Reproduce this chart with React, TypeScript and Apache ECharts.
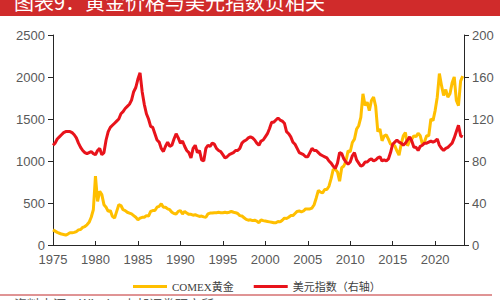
import React, { useEffect, useRef } from "react";
import * as echarts from "echarts";

// Quarterly observations, first point = 1975 Q1, step = a quarter of a year
const START_YEAR = 1975;
const STEP = 0.25;

const xTickLabels = ["1975", "1980", "1985", "1990", "1995", "2000", "2005", "2010", "2015", "2020"];
const leftTicks = [0, 500, 1000, 1500, 2000, 2500];
const rightTicks = [0, 40, 80, 120, 160, 200];

const seriesNames = ["COMEX黄金", "美元指数（右轴）"];

// COMEX gold (USD/oz), left axis
const gold = [
  180, 165, 150, 140, // 1975
  130, 125, 118, 130, // 1976
  145, 145, 150, 160, // 1977
  180, 185, 210, 220, // 1978
  240, 270, 330, 420, // 1979
  820, 520, 640, 600, // 1980
  480, 450, 400, 410, // 1981
  340, 320, 400, 480, // 1982
  470, 420, 410, 390, // 1983
  380, 370, 350, 330, // 1984
  300, 320, 330, 330, // 1985
  350, 345, 400, 410, // 1986
  410, 450, 460, 490, // 1987
  450, 450, 430, 420, // 1988
  390, 375, 370, 400, // 1989
  410, 370, 400, 380, // 1990
  365, 365, 355, 360, // 1991
  350, 340, 345, 335, // 1992
  330, 370, 380, 380, // 1993
  385, 385, 390, 385, // 1994
  385, 390, 385, 390, // 1995
  400, 390, 385, 375, // 1996
  350, 345, 325, 305, // 1997
  295, 300, 290, 295, // 1998
  285, 265, 300, 290, // 1999
  285, 280, 275, 270, // 2000
  265, 265, 280, 275, // 2001
  295, 320, 315, 330, // 2002
  350, 350, 375, 400, // 2003
  405, 395, 405, 430, // 2004
  430, 430, 440, 480, // 2005
  560, 650, 630, 620, // 2006
  660, 660, 700, 790, // 2007
  900, 900, 870, 760, // 2008
  920, 940, 1000, 1120, // 2009
  1110, 1220, 1260, 1380, // 2010
  1420, 1520, 1800, 1660, // 2011
  1700, 1600, 1720, 1760, // 2012
  1650, 1350, 1380, 1240, // 2013
  1300, 1310, 1260, 1200, // 2014
  1200, 1180, 1120, 1070, // 2015
  1200, 1300, 1340, 1180, // 2016
  1240, 1260, 1300, 1290, // 2017
  1330, 1300, 1200, 1230, // 2018
  1300, 1300, 1500, 1480, // 2019
  1600, 1760, 2040, 1900, // 2020
  1780, 1850, 1760, 1800, // 2021
  1930, 2000, 1720, 1660, // 2022
  1950, 2010, // 2023
];

// US dollar index, right axis
const dxy = [
  95, 97, 101, 103, // 1975
  105, 107, 108, 108, // 1976
  108, 107, 105, 102, // 1977
  97, 93, 90, 88, // 1978
  87, 88, 89, 87, // 1979
  86, 90, 92, 86, // 1980
  88, 100, 108, 112, // 1981
  114, 116, 118, 120, // 1982
  125, 127, 130, 132, // 1983
  134, 138, 146, 150, // 1984
  158, 164, 146, 134, // 1985
  125, 120, 113, 112, // 1986
  106, 100, 98, 92, // 1987
  89, 94, 98, 94, // 1988
  95, 101, 106, 102, // 1989
  97, 99, 94, 90, // 1990
  88, 83, 92, 95, // 1991
  88, 90, 81, 80, // 1992
  92, 95, 94, 97, // 1993
  96, 92, 90, 89, // 1994
  86, 83, 84, 86, // 1995
  87, 88, 90, 90, // 1996
  92, 97, 99, 100, // 1997
  102, 103, 102, 100, // 1998
  97, 95, 99, 100, // 1999
  103, 106, 111, 117, // 2000
  117, 119, 121, 119, // 2001
  118, 116, 108, 106, // 2002
  103, 98, 96, 92, // 2003
  88, 87, 86, 84, // 2004
  84, 88, 92, 90, // 2005
  90, 88, 86, 85, // 2006
  84, 83, 80, 78, // 2007
  75, 73, 78, 88, // 2008
  87, 82, 79, 77, // 2009
  79, 85, 88, 81, // 2010
  78, 75, 76, 79, // 2011
  79, 81, 82, 80, // 2012
  81, 83, 84, 80, // 2013
  81, 80, 82, 88, // 2014
  96, 98, 100, 98, // 2015
  97, 95, 97, 100, // 2016
  103, 99, 93, 93, // 2017
  90, 94, 95, 97, // 2018
  97, 98, 99, 98, // 2019
  99, 101, 95, 92, // 2020
  90, 92, 93, 95, // 2021
  97, 102, 108, 114, // 2022
  104, 103, // 2023
];

const GOLD_COLOR = "#FFBF00";
const RED_COLOR = "#E8131B";
const AXIS_COLOR = "#262626";
const LABEL_COLOR = "#595959";

const axisFont = "'Liberation Sans', Arial, sans-serif";

export default function App() {
  const ref = useRef<HTMLDivElement>(null);

  useEffect(() => {
    if (!ref.current) return;
    const chart = echarts.init(ref.current, null, { renderer: "svg" });

    const goldData = gold.map((v, i) => [START_YEAR + i * STEP, v]);
    const dxyData = dxy.map((v, i) => [START_YEAR + i * STEP, v]);

    chart.setOption({
      animation: false,
      backgroundColor: "#ffffff",
      grid: {
        left: 53,
        right: 36,
        top: 35,
        bottom: 55,
        containLabel: false,
        outerBoundsMode: "none",
      },
      legend: {
        left: 128,
        top: 276,
        itemWidth: 34,
        itemHeight: 3,
        itemGap: 20,
        icon: "rect",
        data: seriesNames,
        textStyle: {
          color: "#404040",
          fontSize: 11,
          fontFamily: "'Liberation Serif', 'Noto Sans CJK SC', serif",
        },
      },
      xAxis: {
        type: "value",
        min: START_YEAR,
        max: 2023.4,
        interval: 5,
        splitLine: { show: false },
        axisLine: { show: true, onZero: false, lineStyle: { color: AXIS_COLOR, width: 1 } },
        axisTick: { show: true, inside: true, length: 4, lineStyle: { color: AXIS_COLOR } },
        axisLabel: {
          color: LABEL_COLOR,
          fontSize: 13,
          fontFamily: axisFont,
          margin: 8,
          showMaxLabel: false,
          formatter: (v: number) => {
            const s = String(Math.round(v));
            return xTickLabels.includes(s) && Math.abs(v - Math.round(v)) < 1e-6 ? s : "";
          },
        },
      },
      yAxis: [
        {
          type: "value",
          min: leftTicks[0],
          max: leftTicks[leftTicks.length - 1],
          interval: leftTicks[1] - leftTicks[0],
          position: "left",
          splitLine: { show: false },
          axisLine: { show: true, lineStyle: { color: AXIS_COLOR, width: 1 } },
          axisTick: { show: true, length: 5, lineStyle: { color: AXIS_COLOR } },
          axisLabel: {
            color: LABEL_COLOR,
            fontSize: 13,
            fontFamily: axisFont,
            margin: 8,
            formatter: (v: number) => String(v),
          },
        },
        {
          type: "value",
          min: rightTicks[0],
          max: rightTicks[rightTicks.length - 1],
          interval: rightTicks[1] - rightTicks[0],
          position: "right",
          splitLine: { show: false },
          axisLine: { show: true, lineStyle: { color: AXIS_COLOR, width: 1 } },
          axisTick: { show: true, length: 5, lineStyle: { color: AXIS_COLOR } },
          axisLabel: {
            color: LABEL_COLOR,
            fontSize: 13,
            fontFamily: axisFont,
            margin: 8,
            formatter: (v: number) => String(v),
          },
        },
      ],
      series: [
        {
          name: seriesNames[0],
          type: "line",
          yAxisIndex: 0,
          data: goldData,
          showSymbol: false,
          symbol: "none",
          color: GOLD_COLOR,
          lineStyle: { color: GOLD_COLOR, width: 3 },
          z: 2,
        },
        {
          name: seriesNames[1],
          type: "line",
          yAxisIndex: 1,
          data: dxyData,
          showSymbol: false,
          symbol: "none",
          color: RED_COLOR,
          lineStyle: { color: RED_COLOR, width: 3 },
          z: 3,
        },
      ],
      graphic: [
        {
          type: "rect",
          shape: { x: 0, y: 0, width: 500, height: 16 },
          style: { fill: "#D02B2B" },
          silent: true,
        },
        {
          type: "text",
          x: 14,
          y: 11,
          style: {
            text: "图表9：黄金价格与美元指数负相关",
            fill: "#ffffff",
            fontSize: 20,
            fontFamily: "'Noto Sans CJK SC', sans-serif",
            verticalAlign: "bottom",
          },
          silent: true,
        },
        {
          type: "line",
          shape: { x1: 0, y1: 295, x2: 492, y2: 295 },
          style: { stroke: "#C0282B", lineWidth: 1 },
          silent: true,
        },
        {
          type: "text",
          x: 14,
          y: 297,
          style: {
            text: "资料来源：Wind，中邮证券研究所",
            fill: "#595959",
            fontSize: 13,
            fontFamily: "'Noto Sans CJK SC', sans-serif",
            verticalAlign: "top",
          },
          silent: true,
        },
      ],
    });

    return () => chart.dispose();
  }, []);

  return (
    <div
      ref={ref}
      style={{ position: "fixed", left: 0, top: 0, width: 500, height: 300 }}
    />
  );
}
